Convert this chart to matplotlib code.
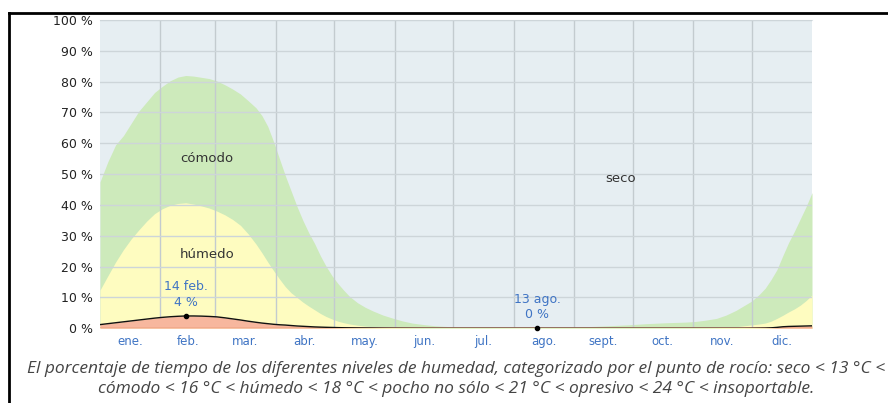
import numpy as np
import matplotlib
matplotlib.use("Agg")
import matplotlib.pyplot as plt
from matplotlib.lines import Line2D

# Day of year (0 = 1 Jan) and percentage of time in each humidity band
days = [0, 4, 8, 12, 16, 20, 24, 28, 32, 36, 40, 44, 48, 52, 56, 60, 64, 68,
        72, 76, 80, 83, 86, 89, 92, 95, 98, 101, 104, 107, 110, 113, 116, 119,
        122, 125, 128, 132, 136, 140, 145, 150, 155, 160, 166, 172, 180, 190,
        200, 215, 230, 245, 260, 270, 280, 290, 300, 305, 310, 316, 321, 326,
        330, 334, 338, 341, 344, 347, 350, 353, 356, 359, 362, 365]

# cumulative upper edge of the "cómodo" band (everything that is not dry)
comodo_top = [47.5, 54, 59.5, 62.5, 66.5, 70.5, 73.5, 76.5, 78.5, 80.3, 81.5,
              82, 81.8, 81.4, 81, 80.2, 79, 77.6, 76, 73.8, 71.5, 69, 65.5,
              60.5, 55, 49.5, 44.5, 39.5, 35, 31, 27.5, 23.5, 20, 17, 14.5,
              12.3, 10.3, 8.3, 6.8, 5.6, 4.3, 3.3, 2.4, 1.7, 1.2, 0.8, 0.5,
              0.35, 0.25, 0.2, 0.25, 0.4, 0.8, 1.1, 1.5, 1.8, 2.0, 2.2, 2.6,
              3.2, 4.3, 5.8, 7.3, 8.8, 11, 13, 15.8, 19, 23.5, 27.8, 31.5,
              35.5, 39.5, 44]

# cumulative upper edge of the "húmedo" band
humedo_top = [12.4, 17, 21.5, 25.5, 29, 32, 34.8, 37.2, 38.8, 39.9, 40.5,
              40.7, 40.3, 39.7, 39, 38, 36.8, 35.3, 33.4, 30.6, 27.3, 24.5,
              21.5, 18.7, 16, 13.5, 11.5, 10, 8.5, 7.2, 6, 4.8, 3.8, 3, 2.3,
              1.8, 1.4, 1, 0.7, 0.5, 0.35, 0.25, 0.2, 0.15, 0.1, 0.1, 0.1,
              0.1, 0.1, 0.1, 0.1, 0.1, 0.1, 0.1, 0.1, 0.1, 0.1, 0.12, 0.15,
              0.2, 0.3, 0.5, 0.8, 1.1, 1.4, 1.7, 2.3, 3.2, 4.2, 5.3, 6.3, 7.5,
              9, 10.8]

# muggy or worse ("pocho" and above)
pocho = [1.2, 1.5, 1.8, 2.1, 2.4, 2.7, 3.0, 3.3, 3.55, 3.75, 3.9, 4.0, 4.0,
         3.95, 3.85, 3.7, 3.4, 3.05, 2.7, 2.3, 1.95, 1.7, 1.5, 1.3, 1.15,
         1.05, 0.9, 0.75, 0.65, 0.55, 0.45, 0.38, 0.32, 0.27, 0.22, 0.18,
         0.15, 0.12, 0.1, 0.08, 0.05, 0.03, 0.02, 0.01, 0, 0, 0, 0, 0, 0, 0,
         0, 0, 0, 0, 0, 0, 0, 0, 0, 0, 0, 0, 0.02, 0.05, 0.08, 0.15, 0.3,
         0.5, 0.6, 0.65, 0.7, 0.75, 0.8]

month_labels = ["ene.", "feb.", "mar.", "abr.", "may.", "jun.", "jul.",
                "ago.", "sept.", "oct.", "nov.", "dic."]
month_lengths = [31, 28, 31, 30, 31, 30, 31, 31, 30, 31, 30, 31]
y_ticks = [0, 10, 20, 30, 40, 50, 60, 70, 80, 90, 100]

# highlighted points: (day, value, label)
peak_day, peak_val, peak_text = 44, 4, "14 feb.\n4 %"
low_day, low_val, low_text = 224, 0, "13 ago.\n0 %"

caption_1 = ("El porcentaje de tiempo de los diferentes niveles de humedad, "
             "categorizado por el punto de rocío: seco < 13 °C <")
caption_2 = ("cómodo < 16 °C < húmedo < 18 °C < pocho no sólo < 21 °C < "
             "opresivo < 24 °C < insoportable.")

C_DRY = "#e6eef2"
C_COMF = "#cdeabb"
C_HUM = "#fefcc0"
C_MUG = "#f7b79e"
C_BLUE = "#3f74c4"
C_GRID_H = "#cdd5d9"
C_GRID_V = "#c3cbcf"

fig = plt.figure(figsize=(8.88, 4.03), dpi=100)
ax = fig.add_axes([100 / 888, 1 - 328.3 / 403, 712 / 888, 308.3 / 403])

d = np.array(days, dtype=float)
ax.set_facecolor(C_DRY)
ax.fill_between(d, 0, comodo_top, color=C_COMF, lw=0, zorder=1)
ax.fill_between(d, 0, humedo_top, color=C_HUM, lw=0, zorder=2)
ax.fill_between(d, 0, pocho, color=C_MUG, lw=0, zorder=3)
ax.plot(d, pocho, color="#111111", lw=1.0, zorder=5)
ax.axhline(0, color="#f0a88a", lw=1.2, zorder=4)

ax.set_xlim(0, 365)
ax.set_ylim(0, 100)

starts = np.concatenate([[0], np.cumsum(month_lengths)[:-1]])
mids = starts + np.array(month_lengths) / 2
ax.set_xticks(starts[1:])
ax.set_xticklabels([])
ax.set_xticks(mids, minor=True)
ax.set_xticklabels(month_labels, minor=True, color=C_BLUE, fontsize=8.5)
ax.set_yticks(y_ticks)
ax.set_yticklabels([f"{v} %" for v in y_ticks], color="#222222", fontsize=9)
ax.tick_params(axis="both", which="both", length=0)
ax.tick_params(axis="x", which="minor", pad=5)
ax.tick_params(axis="y", pad=5)

ax.grid(True, axis="y", which="major", color=C_GRID_H, lw=1.0, zorder=6)
ax.grid(True, axis="x", which="major", color=C_GRID_V, lw=1.0, zorder=6)
ax.set_axisbelow(False)
for s in ax.spines.values():
    s.set_visible(False)
ax.spines["top"].set_visible(True)
ax.spines["top"].set_color("#dde4e8")

# band names
ax.text(55, 55, "cómodo", ha="center", va="center", fontsize=9.5, color="#333333", zorder=7)
ax.text(55, 24, "húmedo", ha="center", va="center", fontsize=9.5, color="#333333", zorder=7)
ax.text(267, 48.5, "seco", ha="center", va="center", fontsize=9.5, color="#333333", zorder=7)

# highlighted extremes
for dd, vv, tt in [(peak_day, peak_val, peak_text), (low_day, low_val, low_text)]:
    ax.plot([dd], [vv], "o", color="black", ms=3, zorder=8, clip_on=False)
    ax.text(dd, vv + 2.3, tt, ha="center", va="bottom", fontsize=9,
            color=C_BLUE, linespacing=1.25, zorder=8)

# caption
fig.text(456 / 888, 1 - 369 / 403, caption_1, ha="center", va="center",
         fontsize=12.5, style="italic", color="#444444", family="Open Sans")
fig.text(456 / 888, 1 - 389 / 403, caption_2, ha="center", va="center",
         fontsize=12.5, style="italic", color="#444444", family="Open Sans")

# outer frame lines
fig.add_artist(Line2D([9 / 888, 1.0], [1 - 13 / 403] * 2, color="black", lw=2))
fig.add_artist(Line2D([9 / 888] * 2, [0, 1 - 13 / 403], color="black", lw=2))

fig.savefig("out.png", dpi=100)
